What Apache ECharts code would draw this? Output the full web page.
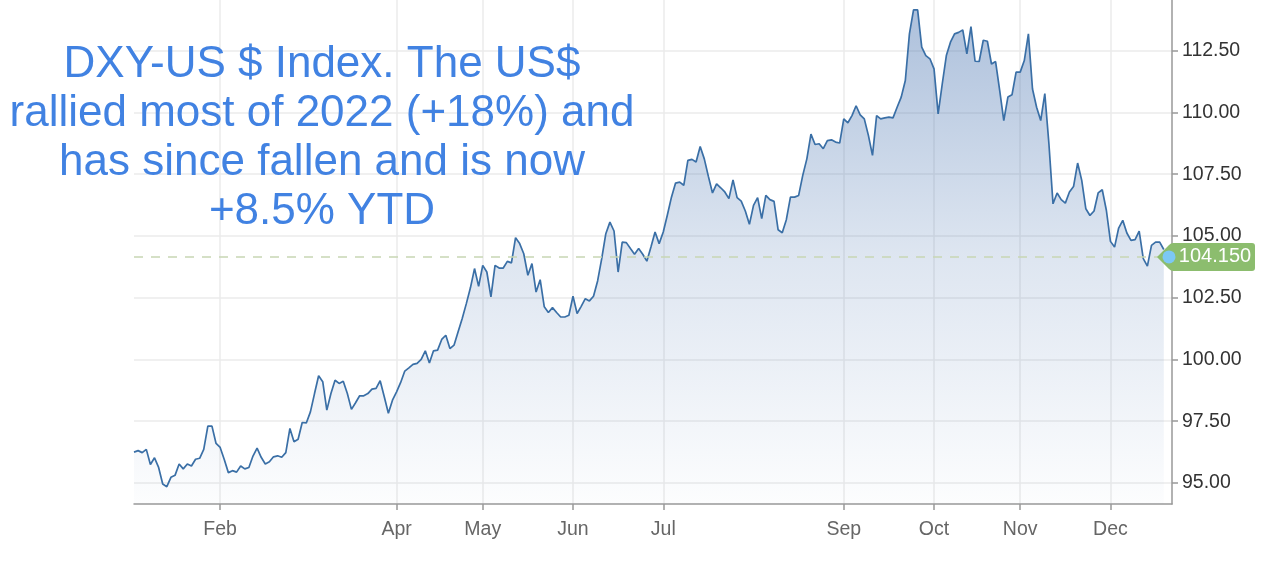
<!DOCTYPE html>
<html><head><meta charset="utf-8">
<script src="https://cdn.jsdelivr.net/npm/echarts@6/dist/echarts.min.js"></script>
<style>html,body{margin:0;padding:0;background:#fff}#c{width:1280px;height:577px}</style>
</head><body><div id="c"></div>
<script>
// ---- data ----
const startDate = '2022-01-03';
const endDate = '2022-12-22';
const dxyValues = [
96.25,96.31,96.23,96.36,95.75,96.02,95.63,94.96,94.85,95.23,
95.31,95.77,95.57,95.77,95.69,95.96,96.00,96.36,97.30,97.30,
96.60,96.44,95.95,95.42,95.50,95.44,95.69,95.57,95.63,96.09,
96.41,96.04,95.77,95.86,96.06,96.10,96.04,96.23,97.21,96.67,
96.77,97.45,97.43,97.88,98.62,99.34,99.10,97.95,98.62,99.16,
99.03,99.12,98.62,97.98,98.25,98.53,98.53,98.62,98.80,98.83,
99.14,98.49,97.82,98.35,98.69,99.07,99.53,99.66,99.80,99.84,
100.00,100.35,99.86,100.35,100.38,100.81,100.98,100.44,100.58,101.12,
101.66,102.26,102.90,103.68,102.96,103.81,103.54,102.53,103.81,103.70,
103.70,103.97,103.91,104.93,104.69,104.28,103.41,103.88,102.73,103.23,
102.13,101.90,102.10,101.90,101.72,101.72,101.79,102.56,101.86,102.15,
102.46,102.37,102.56,103.18,104.08,105.09,105.56,105.20,103.54,104.75,
104.73,104.49,104.26,104.49,104.26,103.98,104.55,105.16,104.69,105.16,
105.85,106.57,107.14,107.18,107.05,108.06,108.10,107.99,108.62,108.12,
107.41,106.74,107.11,106.95,106.78,106.51,107.27,106.55,106.41,106.01,
105.47,106.24,106.55,105.70,106.64,106.47,106.40,105.25,105.13,105.66,
106.57,106.57,106.64,107.45,108.12,109.12,108.70,108.73,108.53,108.86,
108.89,108.80,108.76,109.74,109.58,109.87,110.27,109.90,109.74,109.07,
108.26,109.87,109.74,109.78,109.81,109.78,110.21,110.62,111.29,113.18,
114.15,114.15,112.64,112.30,112.17,111.76,109.94,111.15,112.30,112.84,
113.18,113.24,113.34,112.37,113.47,112.07,112.06,112.92,112.88,111.96,
112.06,110.89,109.67,110.62,110.71,111.63,111.63,112.10,113.18,110.95,
110.21,109.67,110.76,108.73,106.30,106.74,106.47,106.33,106.78,107.00,
107.95,107.25,106.10,105.83,106.01,106.74,106.87,106.04,104.78,104.55,
105.32,105.63,105.12,104.82,104.85,105.19,104.08,103.78,104.62,104.75,
104.75,104.45
];
const monthTickDates = ['2022-02-01','2022-04-01','2022-05-02','2022-06-01','2022-07-01','2022-09-01','2022-10-03','2022-11-01','2022-12-01'];
const monthTickLabels = ['Feb','Apr','May','Jun','Jul','Sep','Oct','Nov','Dec'];
const yTickValues = [95, 97.5, 100, 102.5, 105, 107.5, 110, 112.5];
const lastValue = 104.15;
const titleLines = ['DXY-US $ Index. The US$', 'rallied most of 2022 (+18%) and', 'has since fallen and is now', '+8.5% YTD'];

// ---- build categories (weekdays) ----
function weekdays(s, e) {
  const out = [];
  const d = new Date(s + 'T00:00:00Z');
  const end = new Date(e + 'T00:00:00Z');
  while (d <= end) {
    const w = d.getUTCDay();
    if (w !== 0 && w !== 6) out.push(d.toISOString().slice(0, 10));
    d.setUTCDate(d.getUTCDate() + 1);
  }
  return out;
}
const categories = weekdays(startDate, endDate);
const tickSet = new Set(monthTickDates);
const tickLabelMap = {};
monthTickDates.forEach((d, i) => tickLabelMap[d] = monthTickLabels[i]);
const showTick = (idx, val) => tickSet.has(val);
const lastCat = categories[categories.length - 1];
const FONT = 'Liberation Sans, Arial, sans-serif';

const chart = echarts.init(document.getElementById('c'));
chart.setOption({
  animation: false,
  backgroundColor: '#ffffff',
  grid: { left: 134, right: 108, top: 0, bottom: 73 },
  xAxis: {
    type: 'category',
    data: categories,
    boundaryGap: false,
    axisLine: { show: true, lineStyle: { color: '#999999', width: 1.5 } },
    axisTick: { show: true, interval: showTick, length: 6, lineStyle: { color: '#999999', width: 1.5 } },
    axisLabel: { interval: showTick, formatter: v => tickLabelMap[v] || '', color: '#666666', fontSize: 19.5, fontFamily: FONT, margin: 16 },
    splitLine: { show: true, interval: showTick, lineStyle: { color: '#ebebeb', width: 1.5 } }
  },
  yAxis: {
    type: 'value',
    position: 'right',
    min: 94.15,
    max: 114.55,
    axisLine: { show: true, lineStyle: { color: '#999999', width: 1.5 } },
    axisTick: { show: true, customValues: yTickValues, length: 6, lineStyle: { color: '#999999', width: 1.5 } },
    axisLabel: { customValues: yTickValues, formatter: v => Number(v).toFixed(2), color: '#333333', fontSize: 19.5, fontFamily: FONT, margin: 10 },
    splitLine: { show: true, lineStyle: { color: '#ebebeb', width: 1.5 } }
  },
  graphic: [{
    type: 'text',
    x: 322, y: 40,
    z: 100,
    style: {
      text: titleLines.join('\n'),
      align: 'center',
      verticalAlign: 'top',
      fontSize: 44,
      lineHeight: 49,
      fontFamily: FONT,
      fill: '#4182e2'
    }
  }],
  series: [{
    type: 'line',
    data: dxyValues,
    showSymbol: false,
    symbol: 'none',
    clip: false,
    lineStyle: { color: '#3a6fa6', width: 1.7 },
    areaStyle: {
      color: {
        type: 'linear', x: 0, y: 0, x2: 0, y2: 504, global: true,
        colorStops: [
          { offset: 0, color: 'rgba(62,108,172,0.62)' },
          { offset: 0.5, color: 'rgba(62,108,172,0.25)' },
          { offset: 1, color: 'rgba(62,108,172,0.02)' }
        ]
      }
    },
    markLine: {
      silent: true,
      symbol: 'none',
      label: { show: false },
      lineStyle: { color: '#c8d6b4', type: [9, 8], width: 1.5 },
      data: [{ yAxis: lastValue }]
    },
    markPoint: {
      silent: true,
      data: [
        {
          coord: [lastCat, lastValue],
          symbol: 'path://M0,14 L12,2 Q14,0 16,0 L95,0 Q98,0 98,3 L98,25 Q98,28 95,28 L16,28 Q14,28 12,26 Z',
          symbolSize: [98, 28],
          symbolOffset: [34, 0],
          itemStyle: { color: '#8cbd6e' },
          label: {
            show: true, position: 'inside', formatter: String(lastValue.toFixed(3)),
            color: '#ffffff', fontSize: 20, fontFamily: FONT,
            offset: [9, 0]
          }
        },
        {
          coord: [lastCat, lastValue],
          symbol: 'circle',
          symbolSize: 13,
          symbolOffset: [-3, 0],
          itemStyle: { color: '#7cc8f4' },
          label: { show: false }
        }
      ]
    }
  }]
});
</script>
</body></html>
